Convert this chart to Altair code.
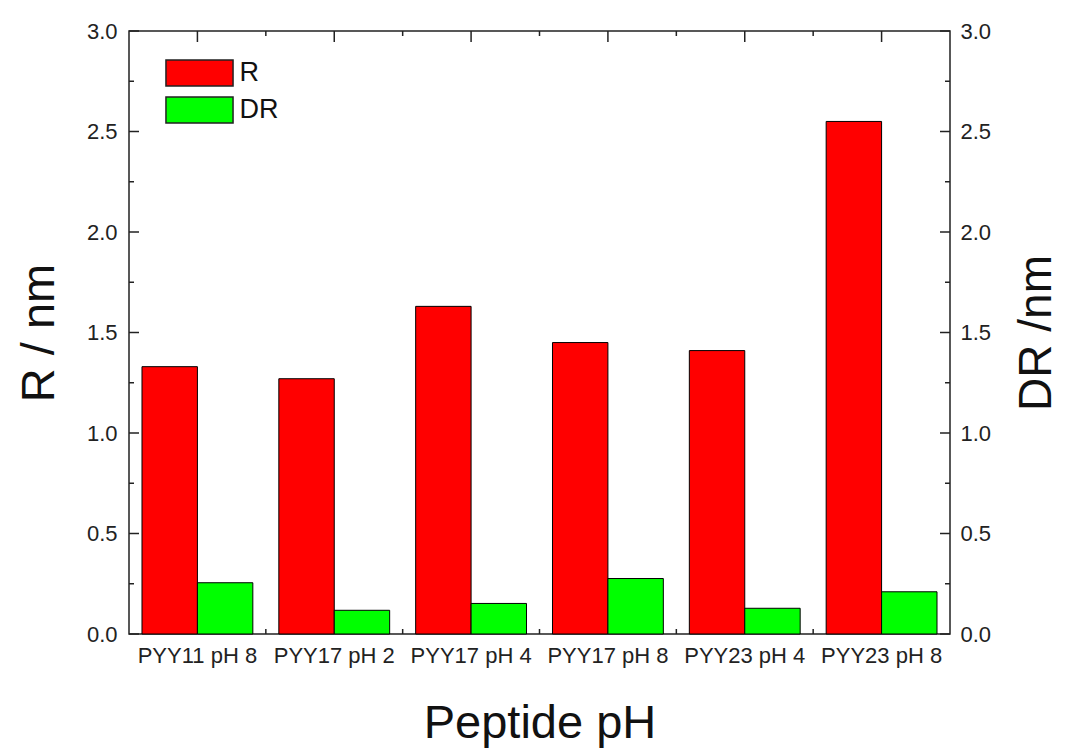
import altair as alt
import pandas as pd

categories = ["PYY11 pH 8", "PYY17 pH 2", "PYY17 pH 4", "PYY17 pH 8", "PYY23 pH 4", "PYY23 pH 8"]
series = ["R", "DR"]
r_values = [1.33, 1.27, 1.63, 1.45, 1.41, 2.55]
dr_values = [0.255, 0.118, 0.152, 0.276, 0.128, 0.21]
y_major = [0.0, 0.5, 1.0, 1.5, 2.0, 2.5, 3.0]
y_minor = [0.25, 0.75, 1.25, 1.75, 2.25, 2.75]
x_centers = [0.5, 1.5, 2.5, 3.5, 4.5, 5.5]
x_bounds = [1, 2, 3, 4, 5]

FONT = "Liberation Sans"
W, H = 821, 603

rows = []
for c, r, d in zip(categories, r_values, dr_values):
    rows.append({"cat": c, "series": "R", "value": r})
    rows.append({"cat": c, "series": "DR", "value": d})
df = pd.DataFrame(rows)

yscale = alt.Scale(domain=[0, 3], nice=False, zero=True)
xq = alt.Scale(domain=[0, 6], nice=False, zero=False)

bars = alt.Chart(df).mark_bar(stroke="black", strokeWidth=1).encode(
    x=alt.X("cat:N", sort=categories,
            scale=alt.Scale(paddingInner=0.19, paddingOuter=0.095),
            axis=alt.Axis(title="Peptide pH", labelAngle=0, ticks=False, domain=False,
                          labelFont=FONT, labelFontSize=22, labelColor="#222",
                          labelPadding=11, titleFont=FONT, titleFontSize=47,
                          titleFontWeight="normal", titleColor="#111", titlePadding=34)),
    xOffset=alt.XOffset("series:N", sort=series, scale=alt.Scale(paddingInner=0, paddingOuter=0)),
    y=alt.Y("value:Q", scale=yscale,
            axis=alt.Axis(title="R / nm", values=y_major, format=".1f", ticks=False,
                          domain=False, grid=False, labelFont=FONT, labelFontSize=22,
                          labelColor="#222", labelPadding=12, titleFont=FONT,
                          titleFontSize=47, titleFontWeight="normal", titleColor="#111",
                          titlePadding=23)),
    color=alt.Color("series:N", sort=series,
                    scale=alt.Scale(domain=series, range=["#ff0000", "#00ff00"]),
                    legend=alt.Legend(title=None, orient="none", legendX=56.5, legendY=28,
                                      symbolType="M-2.58,-1H2.58V1H-2.58Z", symbolSize=676,
                                      symbolStrokeColor="#222", symbolStrokeWidth=1.5,
                                      symbolOpacity=1, labelFont=FONT, labelFontSize=27,
                                      labelColor="#111", labelOffset=26, rowPadding=5,
                                      padding=0)),
)

ymaj = pd.DataFrame({"v": y_major})
ymin = pd.DataFrame({"v": y_minor})
xc = pd.DataFrame({"v": x_centers})
xb = pd.DataFrame({"v": x_bounds})

def ytick(data, x0, x1, axis=None):
    return alt.Chart(data).mark_rule(color="#222", strokeWidth=1.5).encode(
        y=alt.Y("v:Q", scale=yscale, axis=axis), x=alt.value(x0), x2=alt.value(x1))

def xtick(data, y0, y1):
    return alt.Chart(data).mark_rule(color="#222", strokeWidth=1.5).encode(
        x=alt.X("v:Q", scale=xq, axis=None), y=alt.value(y0), y2=alt.value(y1))

right_axis = alt.Axis(orient="right", title="DR /nm", values=y_major, format=".1f",
                      ticks=False, domain=False, grid=False, labelFont=FONT,
                      labelFontSize=22, labelColor="#222", labelPadding=10,
                      titleFont=FONT, titleFontSize=46, titleFontWeight="normal",
                      titleColor="#111", titlePadding=70, titleAngle=270)

layers = [
    bars,
    ytick(ymaj, 0, 10),
    ytick(ymin, 0, 5),
    ytick(ymaj, W - 10, W, axis=right_axis),
    ytick(ymin, W - 5, W),
    xtick(xc, 0, 11),
    xtick(xb, 0, 5),
    xtick(xb, H - 5, H),
]

chart = alt.layer(*layers).resolve_scale(y="independent", x="independent").properties(
    width=W, height=H,
    autosize=alt.AutoSizeParams(type="none"),
    padding={"left": 121, "top": 23, "right": 115, "bottom": 118},
    background="white",
).configure_view(stroke="#222", strokeWidth=1.5)

chart.save("out.html", embed_options={"renderer": "svg", "actions": False})
